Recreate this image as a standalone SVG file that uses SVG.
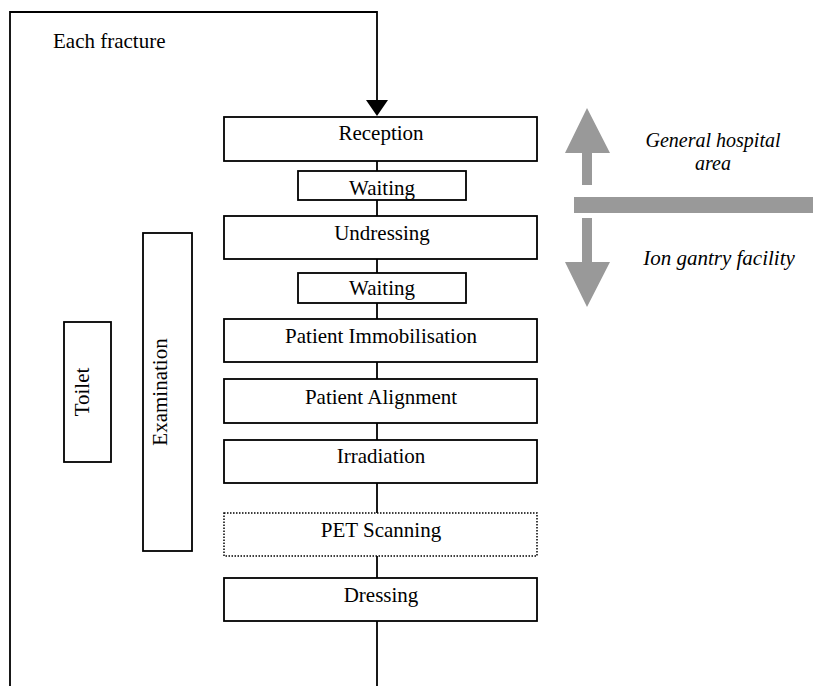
<svg xmlns="http://www.w3.org/2000/svg" width="813" height="686" viewBox="0 0 813 686">
<style>
.box{fill:#fff;stroke:#000;stroke-width:1.8}
.dot{fill:#fff;stroke:#000;stroke-width:1.5;stroke-dasharray:1.5 1.5}
.t{font-family:"Liberation Serif","Times New Roman",serif;font-size:21px;fill:#000;text-anchor:middle}
.i{font-family:"Liberation Serif","Times New Roman",serif;font-style:italic;font-size:20px;fill:#000;text-anchor:middle}
.c{fill:none;stroke:#000;stroke-width:1.8}
.g{fill:#999999}
</style>
<defs>
<marker id="ah" markerWidth="10" markerHeight="8" refX="9" refY="4" orient="auto" markerUnits="userSpaceOnUse" viewBox="0 0 10 8">
<path d="M0,0 L10,4 L0,8 Z" fill="#000"/>
</marker>
</defs>
<rect width="813" height="686" fill="#fff"/>
<g id="connectors">
<path class="c" d="M10,686 V12 H377 V101" stroke-width="2.2"/>
<polygon points="366,100 388,100 377,116" fill="#000"/>
<line class="c" x1="377" y1="161" x2="377" y2="171"/>
<line class="c" x1="377" y1="200" x2="377" y2="216"/>
<line class="c" x1="377" y1="259" x2="377" y2="273"/>
<line class="c" x1="377" y1="303" x2="377" y2="319"/>
<line class="c" x1="377" y1="362" x2="377" y2="379"/>
<line class="c" x1="377" y1="423" x2="377" y2="440"/>
<line class="c" x1="377" y1="483" x2="377" y2="513"/>
<line class="c" x1="377" y1="556" x2="377" y2="578"/>
<line class="c" x1="377" y1="621" x2="377" y2="686"/>
</g>
<text class="t" x="53" y="48" style="text-anchor:start">Each fracture</text>
<g id="reception"><rect class="box" x="224" y="117" width="313" height="44"/><text class="t" x="381" y="140">Reception</text></g>
<g id="waiting1"><rect class="box" x="298" y="171" width="168" height="29"/><text class="t" x="382" y="195">Waiting</text></g>
<g id="undressing"><rect class="box" x="224" y="216" width="313" height="43"/><text class="t" x="382" y="240">Undressing</text></g>
<g id="waiting2"><rect class="box" x="298" y="273" width="168" height="30"/><text class="t" x="382" y="295">Waiting</text></g>
<g id="immobilisation"><rect class="box" x="224" y="319" width="313" height="43"/><text class="t" x="381" y="343">Patient Immobilisation</text></g>
<g id="alignment"><rect class="box" x="224" y="379" width="313" height="44"/><text class="t" x="381" y="404">Patient Alignment</text></g>
<g id="irradiation"><rect class="box" x="224" y="440" width="313" height="43"/><text class="t" x="381" y="463">Irradiation</text></g>
<g id="pet"><rect class="dot" x="224" y="513" width="313" height="43"/><text class="t" x="381" y="537">PET Scanning</text></g>
<g id="dressing"><rect class="box" x="224" y="578" width="313" height="43"/><text class="t" x="381" y="602">Dressing</text></g>
<g id="toilet"><rect class="box" x="64" y="322" width="47" height="140"/><text class="t" transform="translate(89,392) rotate(-90)">Toilet</text></g>
<g id="examination"><rect class="box" x="143" y="233" width="49" height="318"/><text class="t" transform="translate(167,392) rotate(-90)">Examination</text></g>
<g id="zones">
<polygon class="g" points="565,153 587,108 610,153 592,153 592,185 582,185 582,153"/>
<rect class="g" x="574" y="197" width="239" height="16"/>
<polygon class="g" points="582,218 592,218 592,262 610,262 587,307 565,262 582,262"/>
<text class="i" x="713" y="147">General hospital</text>
<text class="i" x="713" y="170">area</text>
<text class="i" x="719" y="265" style="font-size:21px">Ion gantry facility</text>
</g>
</svg>
